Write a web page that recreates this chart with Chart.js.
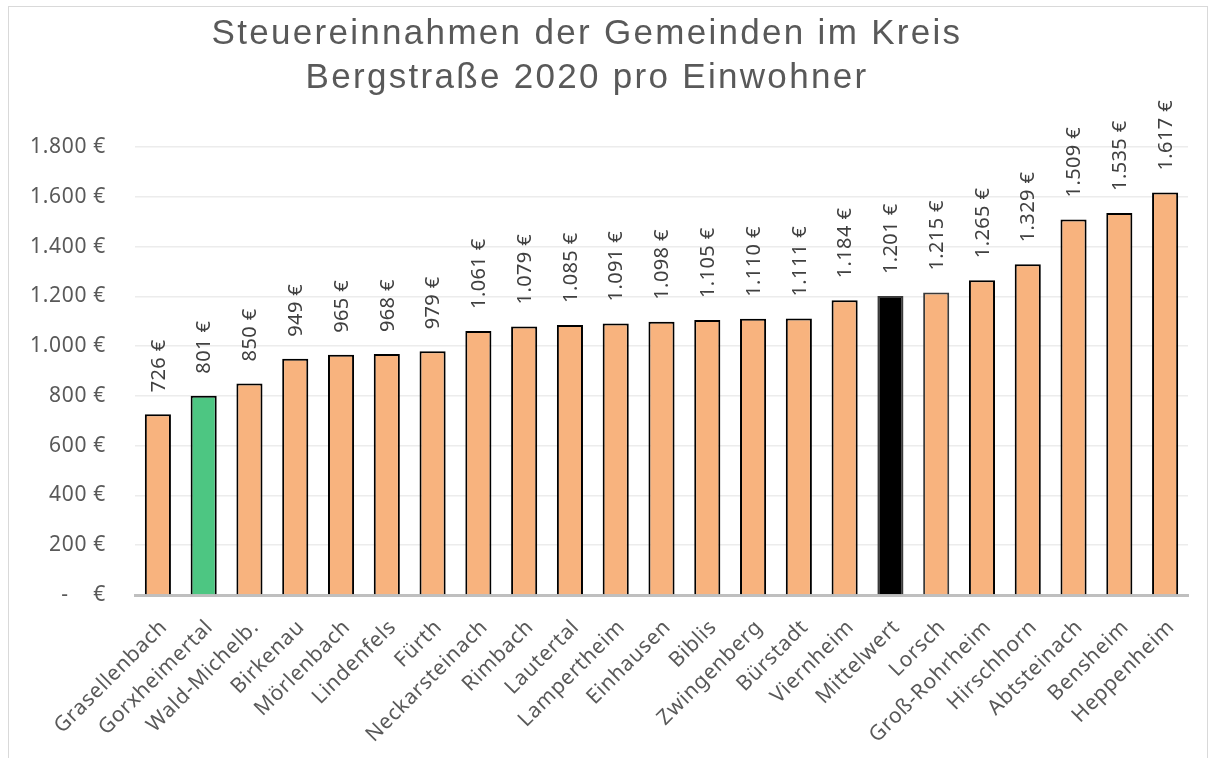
<!DOCTYPE html>
<html>
<head>
<meta charset="utf-8">
<script src="https://cdn.jsdelivr.net/npm/chart.js@4.4.0/dist/chart.umd.min.js"></script>
<style>
    html, body { margin: 0; padding: 0; background: #fff; overflow: hidden; }
    #wrap { position: relative; width: 1211px; height: 758px; }
    #frame { position: absolute; left: 8px; top: 6px; width: 1198px; height: 800px;
             border: 1px solid #d9d9d9; pointer-events: none; }
</style>
</head>
<body>
<div id="wrap">
    <canvas id="taxChart" width="1211" height="758"></canvas>
    <div id="frame"></div>
</div>
<script>
// Chart data
const titleLines = ['Steuereinnahmen der Gemeinden im Kreis', 'Bergstraße 2020 pro Einwohner'];
const towns = ['Grasellenbach', 'Gorxheimertal', 'Wald-Michelb.', 'Birkenau', 'Mörlenbach', 'Lindenfels',
    'Fürth', 'Neckarsteinach', 'Rimbach', 'Lautertal', 'Lampertheim', 'Einhausen', 'Biblis',
    'Zwingenberg', 'Bürstadt', 'Viernheim', 'Mittelwert', 'Lorsch', 'Groß-Rohrheim', 'Hirschhorn',
    'Abtsteinach', 'Bensheim', 'Heppenheim'];
const taxPerResident = [726, 801, 850, 949, 965, 968, 979, 1061, 1079, 1085, 1091, 1098, 1105,
    1110, 1111, 1184, 1201, 1215, 1265, 1329, 1509, 1535, 1617];
const yTicks = [0, 200, 400, 600, 800, 1000, 1200, 1400, 1600, 1800];

const ORANGE = '#f8b37e';
const GREEN = '#4dc682';
const highlight = { 'Gorxheimertal': GREEN, 'Mittelwert': '#000000' };
const FONT = '"Noto Sans", "Open Sans", sans-serif';

function euro(v) {
    if (v === 0) return '-\u00a0\u00a0\u00a0\u00a0€';
    return v.toLocaleString('de-DE') + ' €';
}

// Slightly wider tracking for all axis text (closer to the original rendering)
const tracking = {
    id: 'tracking',
    beforeDraw(chart) { chart.ctx.letterSpacing = '0.7px'; }
};

// Rotated value labels above the bars
const valueLabels = {
    id: 'valueLabels',
    afterDatasetsDraw(chart) {
        const ctx = chart.ctx;
        const meta = chart.getDatasetMeta(0);
        ctx.save();
        ctx.font = '20px ' + FONT;
        ctx.letterSpacing = '0.4px';
        ctx.fillStyle = '#404040';
        ctx.textAlign = 'left';
        ctx.textBaseline = 'middle';
        meta.data.forEach((bar, i) => {
            ctx.save();
            ctx.translate(bar.x, bar.y - 22);
            ctx.rotate(-Math.PI / 2);
            ctx.fillText(euro(taxPerResident[i]), 0, 1);
            ctx.restore();
        });
        ctx.restore();
    }
};

// Two-line title, slightly left of centre like the original
const chartTitle = {
    id: 'chartTitle',
    afterDraw(chart) {
        const ctx = chart.ctx;
        ctx.save();
        ctx.font = '35px "Liberation Sans"';
        ctx.fillStyle = '#595959';
        ctx.textAlign = 'center';
        ctx.textBaseline = 'alphabetic';
        ctx.letterSpacing = '2.3px';
        ctx.fillText(titleLines[0], chart.width * 0.4847, 44);
        ctx.fillText(titleLines[1], chart.width * 0.4847, 88);
        ctx.restore();
    }
};

const ctx = document.getElementById('taxChart').getContext('2d');
const chart = new Chart(ctx, {
    type: 'bar',
    data: {
        labels: towns,
        datasets: [{
            data: taxPerResident,
            backgroundColor: towns.map(t => highlight[t] || ORANGE),
            borderColor: towns.map(t => (t === 'Lorsch' || t === 'Mittelwert') ? '#3a3a3a' : '#000000'),
            borderWidth: 2,
            categoryPercentage: 1,
            barPercentage: 0.57
        }]
    },
    options: {
        responsive: false,
        animation: false,
        layout: {
            padding: { top: 147, right: 23, left: 0, bottom: 0 }
        },
        plugins: {
            legend: { display: false },
            title: { display: false },
            tooltip: { enabled: false }
        },
        scales: {
            x: {
                grid: { display: false },
                border: { color: '#bfbfbf', width: 3 },
                ticks: {
                    font: { family: FONT, size: 21 },
                    color: '#595959',
                    minRotation: 45,
                    maxRotation: 45,
                    padding: 12,
                    labelOffset: 6,
                    autoSkip: false
                },
                afterFit(scale) { scale.height = 163; }
            },
            y: {
                min: 0,
                max: 1800,
                afterBuildTicks(scale) { scale.ticks = yTicks.map(v => ({ value: v })); },
                grid: { color: '#ececec', lineWidth: 1.5, drawTicks: false },
                border: { display: false },
                ticks: {
                    font: { family: FONT, size: 21 },
                    color: '#595959',
                    padding: 29,
                    callback: v => euro(v)
                },
                afterFit(scale) { scale.width = 135; }
            }
        }
    },
    plugins: [tracking, valueLabels, chartTitle]
});
</script>
</body>
</html>
